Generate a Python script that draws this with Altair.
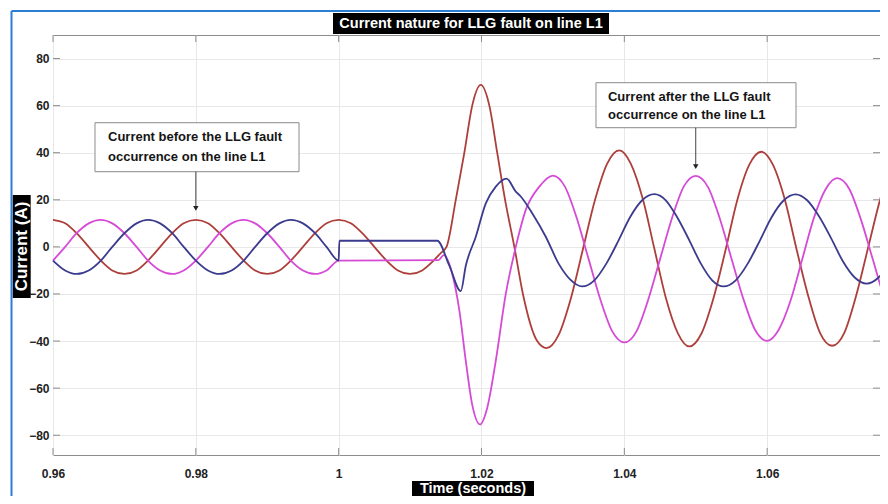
import altair as alt
import pandas as pd

# ---------------- data ----------------
T_PRE = [0.96, 0.9617, 0.9633, 0.965, 0.9667, 0.9683, 0.97, 0.9717, 0.9733, 0.975,
         0.9767, 0.9783, 0.98, 0.9817, 0.9833, 0.985, 0.9867, 0.9883, 0.99, 0.9917,
         0.9933, 0.995, 0.9967, 0.9983, 1.0]
RED_PRE = [11.5, 10, 5.8, 0, -5.8, -10, -11.5, -10, -5.8, 0, 5.8, 10, 11.5, 10, 5.8, 0,
           -5.8, -10, -11.5, -10, -5.8, 0, 5.8, 10, 11.5]
PINK_PRE = [-5.8, 0, 5.8, 10, 11.5, 10, 5.8, 0, -5.8, -10, -11.5, -10, -5.8, 0, 5.8, 10,
            11.5, 10, 5.8, 0, -5.8, -10, -11.5, -10, -5.8]
BLUE_PRE = [-5.8, -10, -11.5, -10, -5.8, 0, 5.8, 10, 11.5, 10, 5.8, 0, -5.8, -10, -11.5,
            -10, -5.8, 0, 5.8, 10, 11.5, 10, 5.8, 0, -5.8]

T_RED_POST = [1.0017, 1.0033, 1.005, 1.0067, 1.0083, 1.01, 1.0117, 1.0133,
              1.0143, 1.0151, 1.0164, 1.0176, 1.0187, 1.0199,
              1.0211, 1.0222, 1.0233, 1.0246, 1.0258, 1.0278, 1.0291,
              1.0308, 1.0325, 1.0342, 1.0359, 1.0376, 1.0393,
              1.0409, 1.0426, 1.0442, 1.0458, 1.0475, 1.0491,
              1.0508, 1.0525, 1.0542, 1.0558, 1.0575, 1.0592,
              1.0608, 1.0625, 1.0641, 1.0658, 1.0674, 1.0691,
              1.0708, 1.0724, 1.0741, 1.0758, 1.0774]
RED_POST = [10, 5.8, 0, -5.8, -10, -11.5, -10, -5.8,
            -2.6, 0, 20, 40, 60, 68.8,
            60, 40, 20, 0, -20, -40, -43,
            -37.4, -22, -1, 20, 35.4, 41,
            35.4, 20.2, -0.7, -21.5, -36.7, -42.3,
            -36.8, -21.6, -1, 19.7, 34.9, 40.4,
            34.9, 19.8, -0.8, -21.4, -36.5, -42,
            -36.5, -21.4, -0.8, 19.9, 35]

T_PINK_POST = [1.014, 1.0147, 1.0159, 1.0169, 1.0178, 1.0187, 1.0198,
               1.0208, 1.022, 1.0234, 1.0248, 1.0262, 1.0281, 1.03,
               1.0317, 1.0333, 1.035, 1.0367, 1.0383, 1.04,
               1.0417, 1.0433, 1.045, 1.0467, 1.0483, 1.05,
               1.0517, 1.0533, 1.055, 1.0567, 1.0583, 1.06,
               1.0616, 1.0633, 1.0649, 1.0665, 1.0682, 1.0698,
               1.0715, 1.0731, 1.0748, 1.0765, 1.0781]
PINK_POST = [-5.6, -3.5, -11.4, -27, -48.4, -67, -75.4,
             -68.4, -48.4, -20, 0, 15.7, 25.6, 30.3,
             25.5, 12.6, -5.2, -22.9, -35.8, -40.6,
             -35.9, -22.9, -5.2, 12.5, 25.5, 30.2,
             25.5, 12.7, -4.9, -22.4, -35.2, -39.9,
             -35.3, -22.6, -5.4, 11.9, 24.6, 29.2,
             24.6, 11.9, -5.4, -22.7, -35.4]

T_BLUE_POST = [1.0001, 1.0138, 1.0155, 1.0171, 1.0178, 1.0192, 1.0206, 1.022, 1.0235,
               1.0248, 1.0255, 1.0271, 1.029, 1.0308, 1.0324, 1.0341,
               1.0358, 1.0375, 1.0392, 1.0408, 1.0425, 1.0442,
               1.0458, 1.0474, 1.0491, 1.0507, 1.0523, 1.0539,
               1.0556, 1.0573, 1.059, 1.0606, 1.0623, 1.064,
               1.0656, 1.0673, 1.069, 1.0706, 1.0723, 1.0739,
               1.0756, 1.0773]
BLUE_POST = [2.6, 2.6, -8, -18.8, -8, 4.3, 18.5, 25.6, 29,
             23.5, 21.4, 14.3, 4.3, -7.1, -13.8, -16.8,
             -14.2, -7, 2.8, 12.6, 19.8, 22.4,
             19.8, 12.6, 2.8, -7, -14.2, -16.8,
             -14.2, -7, 2.8, 12.5, 19.7, 22.3,
             19.8, 12.8, 3.4, -6.1, -13.1, -15.6,
             -13, -6]

PHASES = ["Phase A", "Phase B", "Phase C"]
COLORS = ["#ad3f3b", "#d64bd6", "#3b3b8e"]

X_TICKS = [0.96, 0.98, 1.0, 1.02, 1.04, 1.06]
Y_TICKS = [-80, -60, -40, -20, 0, 20, 40, 60, 80]
X_DOMAIN = [0.96, 1.0758]
Y_DOMAIN = [-88.4, 90]

TITLE = "Current nature for LLG fault on line L1"
X_TITLE = "Time (seconds)"
Y_TITLE = "Current (A)"
NOTE_BEFORE = ["Current before the LLG fault", "occurrence on the line L1"]
NOTE_AFTER = ["Current after the LLG fault", "occurrence on the line L1"]

# ---------------- styling / layout ----------------
W, H = 827, 420
FONT = "Liberation Sans"
FRAME = "#8c8c8c"
xs = alt.Scale(domain=X_DOMAIN, nice=False, zero=False)
ys = alt.Scale(domain=Y_DOMAIN, nice=False, zero=False)
XAX = alt.Axis(values=X_TICKS, format="~g", title=None, grid=True, ticks=False,
               domain=False, labelPadding=13, labelFlush=False)
YAX = alt.Axis(values=Y_TICKS, title=None, grid=True, ticks=False, domain=False,
               labelPadding=4)
one = pd.DataFrame({"z": [0]})

rows = []
for name, ts, vs in [
    (PHASES[0], T_PRE + T_RED_POST, RED_PRE + RED_POST),
    (PHASES[1], T_PRE + T_PINK_POST, PINK_PRE + PINK_POST),
    (PHASES[2], T_PRE + T_BLUE_POST, BLUE_PRE + BLUE_POST),
]:
    for i, (t, v) in enumerate(zip(ts, vs)):
        rows.append({"t": t, "I": v, "phase": name, "k": i})
lines_df = pd.DataFrame(rows)

lines = alt.Chart(lines_df).mark_line(interpolate="monotone", strokeWidth=1.8).encode(
    x=alt.X("t:Q", scale=xs, axis=XAX),
    y=alt.Y("I:Q", scale=ys, axis=YAX),
    color=alt.Color("phase:N", scale=alt.Scale(domain=PHASES, range=COLORS), legend=None),
    order="k:Q",
)

# inward ticks on all four sides
xt = pd.DataFrame({"t": X_TICKS})
yt = pd.DataFrame({"I": Y_TICKS})
tick_layers = []
for y0, y1 in [(0, 7), (H, H - 7)]:
    tick_layers.append(alt.Chart(xt).mark_rule(color=FRAME, strokeWidth=1).encode(
        x=alt.X("t:Q", scale=xs, axis=XAX), y=alt.value(y0), y2=alt.value(y1)))
for x0, x1 in [(0, 7), (W, W - 7)]:
    tick_layers.append(alt.Chart(yt).mark_rule(color=FRAME, strokeWidth=1).encode(
        y=alt.Y("I:Q", scale=ys, axis=YAX), x=alt.value(x0), x2=alt.value(x1)))

# annotation boxes, texts and arrows (data coordinates)
boxes = pd.DataFrame({
    "t": [0.96588, 1.03603], "t2": [0.99445, 1.06404],
    "I": [52.74, 69.74], "I2": [31.93, 50.62],
})
notes = pd.DataFrame({
    "t": [0.9677, 0.9677, 1.03771, 1.03771],
    "I": [46.8, 38.3, 63.79, 56.02],
    "label": NOTE_BEFORE + NOTE_AFTER,
})
arrows = pd.DataFrame({
    "t": [0.98, 1.05], "I": [31.93, 50.62], "I2": [16.0, 33.8], "hy": [16.4, 34.1],
})
box_layer = alt.Chart(boxes).mark_rect(fill="white", stroke="#8a8a8a", strokeWidth=1).encode(
    x=alt.X("t:Q", scale=xs, axis=XAX), x2="t2:Q",
    y=alt.Y("I:Q", scale=ys, axis=YAX), y2="I2:Q")
note_layer = alt.Chart(notes).mark_text(align="left", baseline="middle", font=FONT,
                                        fontWeight="bold", fontSize=13, color="#151515").encode(
    x=alt.X("t:Q", scale=xs, axis=XAX), y=alt.Y("I:Q", scale=ys, axis=YAX), text="label:N")
arrow_layer = alt.Chart(arrows).mark_rule(color="#444", strokeWidth=1).encode(
    x=alt.X("t:Q", scale=xs, axis=XAX), y=alt.Y("I:Q", scale=ys, axis=YAX), y2="I2:Q")
head_layer = alt.Chart(arrows).mark_point(shape="triangle-down", filled=True, size=30,
                                          color="#222", opacity=1).encode(
    x=alt.X("t:Q", scale=xs, axis=XAX), y=alt.Y("hy:Q", scale=ys, axis=YAX))


# black label blocks (pixel positions relative to plot area)
def block(x0, x1, y0, y1, text, size, angle=0, dy=0.5):
    r = alt.Chart(one).mark_rect(color="black").encode(
        x=alt.value(x0), x2=alt.value(x1), y=alt.value(y0), y2=alt.value(y1))
    t = alt.Chart(one).mark_text(color="white", font=FONT, fontWeight="bold", fontSize=size,
                                 align="center", baseline="middle", angle=angle).encode(
        x=alt.value((x0 + x1) / 2), y=alt.value((y0 + y1) / 2 + dy), text=alt.value(text))
    return [r, t]


title_layers = block(280, 556, -22, -1, TITLE, 14.5)
xtitle_layers = block(359, 481, 446, 462, X_TITLE, 14.5, dy=-0.5)
ytitle_layers = block(-40.3, -22.3, 160, 263, Y_TITLE, 17, angle=270, dy=0)

# blue window border (left and top)
border = [
    alt.Chart(one).mark_rule(color="#2a7fd4", strokeWidth=2).encode(
        x=alt.value(-41.5), y=alt.value(-24), y2=alt.value(470)),
    alt.Chart(one).mark_rule(color="#2a7fd4", strokeWidth=2).encode(
        x=alt.value(-41.5), x2=alt.value(W + 5), y=alt.value(-24)),
]

chart = alt.layer(
    lines, *tick_layers, box_layer, arrow_layer, head_layer, note_layer,
    *title_layers, *xtitle_layers, *ytitle_layers, *border,
).properties(
    width=W, height=H,
    autosize=alt.AutoSizeParams(type="none"),
    padding={"left": 45, "top": 27, "right": 0, "bottom": 41},
    background="white",
).configure_view(
    stroke=FRAME, strokeWidth=1,
).configure_axis(
    labelFont=FONT, labelFontWeight="bold", labelFontSize=12, labelColor="#222",
    gridColor="#e8e8e8", gridWidth=1,
)

chart.save("out.html", embed_options={"renderer": "svg", "actions": False})
